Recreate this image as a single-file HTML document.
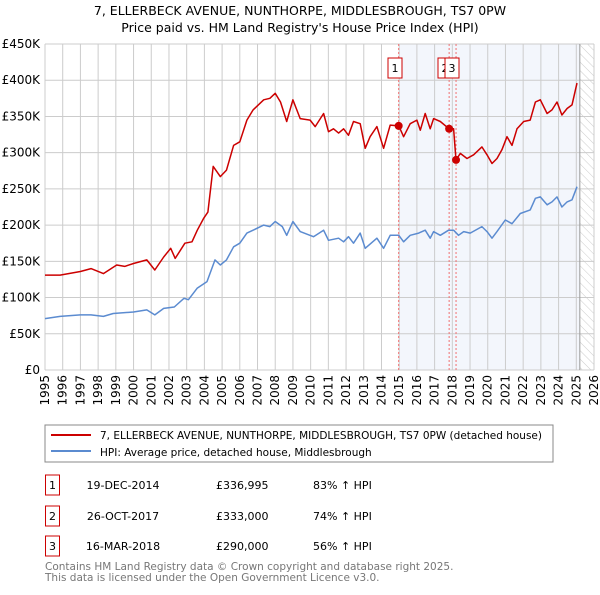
<!DOCTYPE html>
<html><head><meta charset="utf-8"><style>
body{margin:0;background:#fff;font-family:"Liberation Sans","DejaVu Sans",sans-serif;}
svg text{font-family:"DejaVu Sans","Liberation Sans",sans-serif;}
</style></head><body>
<svg id="c" width="600" height="590" xmlns="http://www.w3.org/2000/svg">
<text x="300" y="15" text-anchor="middle" font-size="12.5">7, ELLERBECK AVENUE, NUNTHORPE, MIDDLESBROUGH, TS7 0PW</text>
<text x="300" y="32" text-anchor="middle" font-size="12.5">Price paid vs. HM Land Registry's House Price Index (HPI)</text>
<g id="plot"></g>
<rect x="45" y="425" width="508" height="37" fill="#fff" stroke="#888"/>
<line x1="51" y1="435" x2="91" y2="435" stroke="#cc0000" stroke-width="2"/>
<text x="100" y="439" font-size="10.5">7, ELLERBECK AVENUE, NUNTHORPE, MIDDLESBROUGH, TS7 0PW (detached house)</text>
<line x1="51" y1="451" x2="91" y2="451" stroke="#5b8bd0" stroke-width="2"/>
<text x="100" y="456" font-size="10.5">HPI: Average price, detached house, Middlesbrough</text>
<g font-size="11">
<rect x="45.5" y="475" width="14" height="20" fill="none" stroke="#cc0000"/><text x="52.5" y="489" text-anchor="middle">1</text>
<text x="123" y="489" text-anchor="middle">19-DEC-2014</text><text x="216" y="489">£336,995</text><text x="313" y="489">83% ↑ HPI</text>
<rect x="45.5" y="506" width="14" height="20" fill="none" stroke="#cc0000"/><text x="52.5" y="520" text-anchor="middle">2</text>
<text x="123" y="520" text-anchor="middle">26-OCT-2017</text><text x="216" y="520">£333,000</text><text x="313" y="520">74% ↑ HPI</text>
<rect x="45.5" y="536" width="14" height="20" fill="none" stroke="#cc0000"/><text x="52.5" y="550" text-anchor="middle">3</text>
<text x="123" y="550" text-anchor="middle">16-MAR-2018</text><text x="216" y="550">£290,000</text><text x="313" y="550">56% ↑ HPI</text>
</g>
<text x="45" y="570" font-size="10.5" fill="#777">Contains HM Land Registry data © Crown copyright and database right 2025.</text>
<text x="45" y="581" font-size="10.5" fill="#777">This data is licensed under the Open Government Licence v3.0.</text>
</svg>
<script>
const redYears=[1995.0,1995.85,1997.0,1997.6,1998.3,1999.05,1999.5,2000.0,2000.75,2001.2,2001.7,2002.1,2002.35,2002.9,2003.3,2003.6,2003.95,2004.2,2004.5,2004.9,2005.25,2005.65,2006.0,2006.4,2006.75,2007.35,2007.7,2008.0,2008.3,2008.65,2009.0,2009.41,2009.97,2010.26,2010.73,2011.01,2011.29,2011.58,2011.86,2012.14,2012.42,2012.8,2013.08,2013.36,2013.74,2014.12,2014.49,2014.98,2015.25,2015.62,2016.0,2016.19,2016.47,2016.75,2016.94,2017.32,2017.82,2018.07,2018.21,2018.45,2018.83,2019.2,2019.67,2019.96,2020.24,2020.52,2020.8,2021.09,2021.37,2021.65,2022.03,2022.4,2022.69,2022.97,2023.35,2023.63,2023.91,2024.19,2024.48,2024.76,2025.04];
const redValues=[131,131,136,140,133,145,143,147,152,138,156,168,154,175,177,193,209,218,281,267,276,310,315,345,359,373,375,382,370,343,373,347,345,336,354,329,333,327,333,324,343,340,306,322,336,306,338,337,322,340,345,331,354,333,347,343,333,333,290,299,292,297,308,297,285,292,304,322,310,333,343,345,370,373,354,359,370,352,361,366,396];
const hpiYears=[1995.0,1995.85,1997.0,1997.6,1998.3,1998.85,2000.0,2000.75,2001.2,2001.7,2002.3,2002.85,2003.1,2003.6,2004.15,2004.6,2004.9,2005.25,2005.65,2006.0,2006.4,2006.75,2007.35,2007.7,2008.0,2008.4,2008.65,2009.0,2009.41,2010.16,2010.73,2011.01,2011.58,2011.86,2012.14,2012.42,2012.8,2013.08,2013.74,2014.12,2014.49,2014.98,2015.25,2015.62,2016.1,2016.47,2016.75,2016.94,2017.32,2017.79,2018.07,2018.35,2018.64,2019.01,2019.67,2019.96,2020.24,2020.52,2020.99,2021.37,2021.84,2022.4,2022.69,2022.97,2023.35,2023.63,2023.91,2024.19,2024.48,2024.76,2025.04];
const hpiValues=[71,74,76,76,74,78,80,83,76,85,87,99,97,113,122,152,145,152,170,175,189,193,200,198,205,198,186,205,191,184,193,179,182,177,184,175,189,168,182,168,186,186,177,186,189,193,182,191,186,193,193,186,191,189,198,191,182,191,207,202,216,221,237,239,228,232,239,225,232,235,253];
const saleYears=[2014.97,2017.82,2018.21];
const saleValues=[337,333,290];
const saleLabels=["1","2","3"];
const yTicks=[0,50,100,150,200,250,300,350,400,450];
const xTicks=[1995,1996,1997,1998,1999,2000,2001,2002,2003,2004,2005,2006,2007,2008,2009,2010,2011,2012,2013,2014,2015,2016,2017,2018,2019,2020,2021,2022,2023,2024,2025,2026];

const NS="http://www.w3.org/2000/svg";
const X0=45,X1=594,Y0=370,Y1=44;
const xs=y=>X0+(y-1995)/(2026-1995)*(X1-X0);
const ys=v=>Y0-v/450*(Y0-Y1);
const g=document.getElementById('plot');
function mk(t,a){const e=document.createElementNS(NS,t);for(const k in a)e.setAttribute(k,a[k]);g.appendChild(e);return e;}
let e;
e=mk('rect',{x:xs(2014.97),y:Y1,width:xs(2025.2)-xs(2014.97),height:Y0-Y1,fill:'#eef2fb',opacity:0.7});


const defs=mk('defs',{});
defs.innerHTML='<pattern id="hatch" width="6" height="6" patternUnits="userSpaceOnUse" patternTransform="rotate(-45)"><line x1="0" y1="0" x2="0" y2="6" stroke="#ccc" stroke-width="1"/></pattern>';
e=mk('rect',{x:xs(2025.2),y:Y1,width:X1-xs(2025.2),height:Y0-Y1,fill:'url(#hatch)'});


yTicks.forEach(t=>{
 e=mk('line',{x1:X0,x2:X1,y1:ys(t),y2:ys(t),stroke:'#ccc'});
 
 
 e=mk('text',{x:40,y:ys(t)+4,'text-anchor':'end','font-size':12});
 e.textContent=t===0?'£0':'£'+t+'K';
 
 
});
xTicks.forEach(t=>{
 e=mk('line',{x1:xs(t),x2:xs(t),y1:Y1,y2:Y0,stroke:'#ccc'});
 
 
 e=mk('text',{x:0,y:0,'font-size':12,'text-anchor':'end',transform:'translate('+(xs(t)+4)+','+(Y0+5)+') rotate(-90)'});
 e.textContent=t;
 
 
});
e=mk('line',{x1:xs(2025.2),x2:xs(2025.2),y1:Y1,y2:Y0,stroke:'#999'});


saleYears.forEach((y,i)=>{
 e=mk('line',{x1:xs(y),x2:xs(y),y1:Y1,y2:Y0,stroke:'#f07070','stroke-dasharray':'2,2'});
 
 
});
function line(xa,va,col,name){
 const d=xa.map((x,i)=>(i?'L':'M')+xs(x).toFixed(1)+','+ys(va[i]).toFixed(1)).join('');
 const p=mk('path',{d:d,fill:'none',stroke:col,'stroke-width':1.5,'stroke-linejoin':'round'});
 
 
}
line(hpiYears,hpiValues,'#5b8bd0','hpi-line');
line(redYears,redValues,'#cc0000','property-price-line');
saleYears.forEach((y,i)=>{
 e=mk('circle',{cx:xs(y),cy:ys(saleValues[i]),r:4,fill:'#cc0000'});
 
 
});
const boxX=[388,438,445];
saleLabels.forEach((l,i)=>{
 e=mk('rect',{x:boxX[i],y:58,width:14,height:20,fill:'#fff',stroke:'#cc0000'});
 
 
 e=mk('text',{x:boxX[i]+7,y:72,'text-anchor':'middle','font-size':11});
 e.textContent=l;
 
 
});
</script>
</body></html>
